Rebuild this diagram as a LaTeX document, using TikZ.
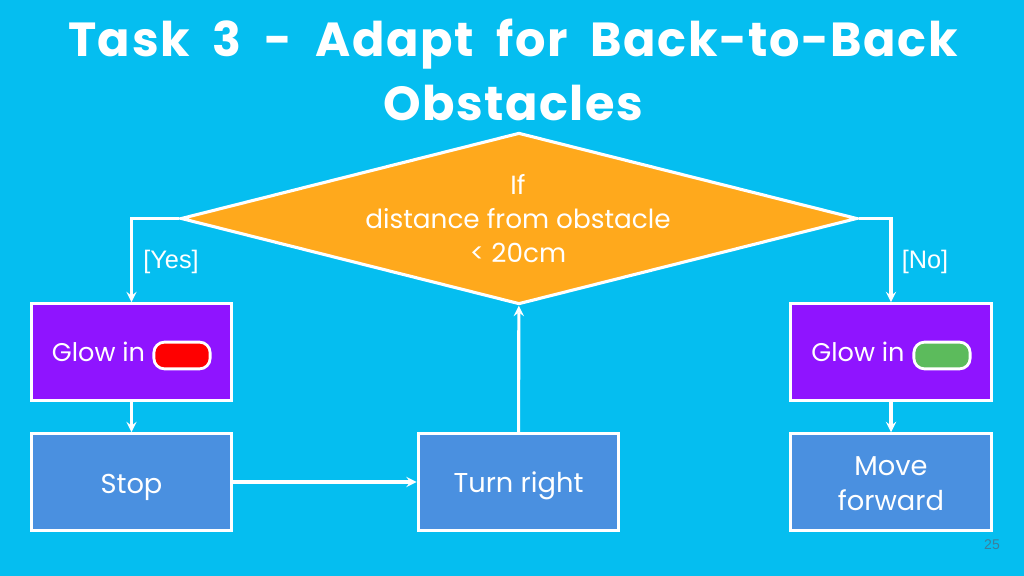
\documentclass[tikz,border=0pt]{standalone}
\usepackage{fontspec}
\usepackage{xcolor}
\setmainfont{Poppins}
\newfontfamily\plainfont{Liberation Sans}
\newfontfamily\titlefont[LetterSpace=3.2,WordSpace=1.97]{Poppins}
\usetikzlibrary{shapes.geometric}
\definecolor{slidebg}{HTML}{05BEF0}
\definecolor{condfill}{HTML}{FFA91C}
\definecolor{glowfill}{HTML}{8F14FF}
\definecolor{actionfill}{HTML}{4A90E0}
\definecolor{pillgreen}{HTML}{5CBB5C}
\definecolor{pageno}{HTML}{3C7F9C}
\tikzset{
  box/.style={rectangle, draw=white, line width=2.2pt, minimum width=142.6pt, minimum height=68.6pt, inner sep=0pt},
  glowbox/.style={box, fill=glowfill},
  actionbox/.style={box, fill=actionfill},
  boxtext/.style={text=white, align=center, font=\fontsize{19.4}{25}\selectfont},
  glowtext/.style={text=white, font=\fontsize{18.2}{25}\selectfont},
  pill/.style={rectangle, rounded corners=7.5pt, draw=white, line width=2pt, minimum width=40pt, minimum height=19pt, inner sep=0pt},
  tag/.style={text=white, font=\plainfont\fontsize{18}{20}\selectfont},
  link/.style={draw=white, line width=2.2pt, -stealth},
}
\begin{document}
\begin{tikzpicture}[x=0.025cm, y=-0.025cm]
  \fill[slidebg] (0,0) rectangle (1024,576);
  \useasboundingbox (0,0) rectangle (1024,576);

  \node (title) at (513,70) [text=white, align=center, font=\titlefont\bfseries\fontsize{34}{46}\selectfont] {Task 3 - Adapt for Back-to-Back\\Obstacles};

  \node (cond) at (519,218.5) [diamond, aspect=3.95, fill=condfill, draw=white, line width=2.2pt, minimum width=481pt, minimum height=122pt, inner sep=0pt] {};
  \node (condtext) at (518,219) [text=white, align=center, font=\fontsize{18.7}{24.2}\selectfont] {If\\distance from obstacle\\< 20cm};

  \node (glowred) at (131.5,352) [glowbox] {};
  \node (glowgreen) at (891,352) [glowbox] {};
  \node (stop) at (131.5,482) [actionbox] {};
  \node (turn) at (518.5,482) [actionbox] {};
  \node (move) at (891,482) [actionbox] {};

  \node (glowredtext) at (98.5,352) [glowtext] {Glow in};
  \node (pillred) at (182,355.5) [pill, fill=red] {};
  \node (glowgreentext) at (858,352) [glowtext] {Glow in};
  \node (pillgreen) at (942,355.5) [pill, fill=pillgreen] {};
  \node (stoptext) at (131.5,487) [boxtext] {Stop};
  \node (turntext) at (518.5,486) [boxtext] {Turn right};
  \node (movetext) at (891,484) [boxtext] {Move\\forward};

  \node (yes) at (171,262) [tag] {[Yes]};
  \node (no) at (925,262) [tag] {[No]};
  \node (page) at (992,545) [text=pageno, font=\plainfont\fontsize{10}{12}\selectfont] {25};

  \draw[link] (cond.west) -| (glowred.north);
  \draw[link] (cond.east) -| (glowgreen.north);
  \draw[link] (glowred) -- (stop);
  \draw[link] (glowgreen) -- (move);
  \draw[link] (stop) -- (turn);
  \draw[link] (turn) -- (cond);
\end{tikzpicture}
\end{document}
